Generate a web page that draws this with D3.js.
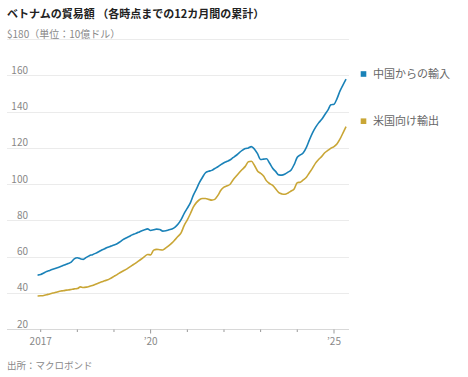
<!DOCTYPE html>
<html><head><meta charset="utf-8">
<script src="https://cdn.jsdelivr.net/npm/d3@7"></script>
<style>
body{margin:0;background:#fff;}
svg{display:block;font-family:"Noto Sans CJK JP","Noto Sans",sans-serif;}
</style></head>
<body><svg id="c" width="468" height="377"></svg>
<script>
const startMonth = "2016-12";
const chinaImports = [
 50.0,
 50.3,51.2,52.0,52.6,53.2,53.8,54.4,55.0,55.7,56.4,57.2,59.0,
 59.6,59.0,58.7,59.8,60.7,61.3,62.0,62.9,63.9,64.6,65.4,66.0,
 66.6,67.3,68.3,69.6,70.5,71.3,72.2,72.9,73.6,74.4,75.0,75.5,
 74.6,75.0,75.4,75.2,74.3,74.5,75.0,75.5,76.5,78.2,80.8,84.1,
 87.0,90.0,94.0,97.5,101.0,104.0,106.5,107.3,107.8,108.8,109.8,111.0,
 112.0,112.8,113.5,114.8,116.0,117.5,118.8,119.8,120.2,120.9,119.5,117.0,
 113.8,114.0,114.2,111.7,109.0,107.1,105.3,105.2,105.8,106.8,108.0,111.0,
 115.0,116.3,117.5,120.5,124.6,128.5,131.5,134.0,136.0,138.5,141.0,144.0,
 144.3,147.5,151.5,155.0,158.2
];
const usExports = [
 38.5,
 38.6,38.8,39.2,39.6,40.1,40.5,41.0,41.3,41.6,41.8,42.1,42.4,
 42.6,43.5,43.2,43.4,43.8,44.3,45.0,45.7,46.3,46.9,47.4,48.3,
 49.3,50.3,51.3,52.3,53.2,54.3,55.4,56.5,57.7,58.9,60.2,61.4,
 61.2,63.8,64.2,64.0,63.9,65.0,66.3,67.8,69.6,71.4,73.5,77.5,
 80.5,84.0,87.5,90.0,91.6,92.3,92.3,91.8,91.4,91.8,94.0,96.8,
 98.5,99.3,100.0,102.5,104.5,106.5,108.3,110.0,112.5,112.8,110.5,107.5,
 106.2,104.5,102.0,100.5,99.5,97.5,95.5,94.8,94.6,95.3,96.4,97.5,
 101.0,101.3,102.5,104.0,106.5,109.0,111.8,113.8,115.5,117.5,118.8,120.0,
 120.9,122.5,125.0,128.5,131.9
];
const seriesNames = ["中国からの輸入","米国向け輸出"];
const seriesColors = ["#1a82b8","#c9a636"];
const yTicks = [20,40,60,80,100,120,140,160,180];
const xTickYears = [2017,2018,2019,2020,2021,2022,2023,2024,2025];
const xLabels = {2017:"2017",2020:"’20",2025:"’25"};
const title = "ベトナムの貿易額 （各時点までの12カ月間の累計）";
const unitLabel = "$180（単位：10億ドル）";
const source = "出所：マクロボンド";

const svg = d3.select("#c");
const parse = d3.timeParse("%Y-%m");
const t0 = parse(startMonth);
const dates = chinaImports.map((_,i)=>d3.timeMonth.offset(t0,i));

const x = d3.scaleTime().domain([new Date(2017,0,1), new Date(2025,0,1)]).range([40.7,334]);
const y = d3.scaleLinear().domain([20,180]).range([329.5,39.5]);

// gridlines
svg.append("g").selectAll("line").data(yTicks).join("line")
  .attr("x1",7).attr("x2",349)
  .attr("y1",d=>y(d)).attr("y2",d=>y(d))
  .attr("stroke",d=>d===20?"#d8d8d8":"#ebebeb").attr("stroke-width",1).attr("shape-rendering","crispEdges");

// y labels
svg.append("g").selectAll("text").data(yTicks.filter(d=>d!==180)).join("text")
  .attr("x",28).attr("y",d=>y(d)-2).attr("text-anchor","end")
  .attr("font-size",10).attr("fill","#888").text(d=>d);
svg.append("text").attr("x",7).attr("y",y(180)-2).attr("font-size",10).attr("fill","#888").text(unitLabel);

// x ticks
const xt = svg.append("g");
xt.selectAll("line").data(xTickYears).join("line")
  .attr("x1",d=>x(new Date(d,0,1))).attr("x2",d=>x(new Date(d,0,1)))
  .attr("y1",y(20)).attr("y2",d=>xLabels[d] && d!==2017 ? y(20)+4 : y(20)+2.5)
  .attr("stroke","#999").attr("stroke-width",1);
xt.selectAll("text").data(xTickYears.filter(d=>xLabels[d])).join("text")
  .attr("x",d=>x(new Date(d,0,1))).attr("y",344.5).attr("text-anchor","middle")
  .attr("font-size",10).attr("fill","#888").text(d=>xLabels[d]);

// lines
const line = d3.line().x((d,i)=>x(dates[i])).y(d=>y(d)).curve(d3.curveMonotoneX);
[chinaImports, usExports].forEach((s,k)=>{
  svg.append("path").datum(s).attr("d",line).attr("fill","none")
    .attr("stroke",seriesColors[k]).attr("stroke-width",1.6).attr("stroke-linejoin","round");
});

// legend
const legY = [74,121.2];
seriesNames.forEach((n,k)=>{
  svg.append("rect").attr("x",360.7).attr("y",legY[k]-2.8).attr("width",5.6).attr("height",5.6).attr("fill",seriesColors[k]);
  svg.append("text").attr("x",373).attr("y",legY[k]+4).attr("font-size",11).attr("fill","#666").text(n);
});

// title & source
svg.append("text").attr("x",7).attr("y",17.5).attr("font-size",11).attr("font-weight","bold").attr("fill","#222").text(title);
svg.append("text").attr("x",7).attr("y",368.5).attr("font-size",9.5).attr("fill","#888").text(source);
</script></body></html>
